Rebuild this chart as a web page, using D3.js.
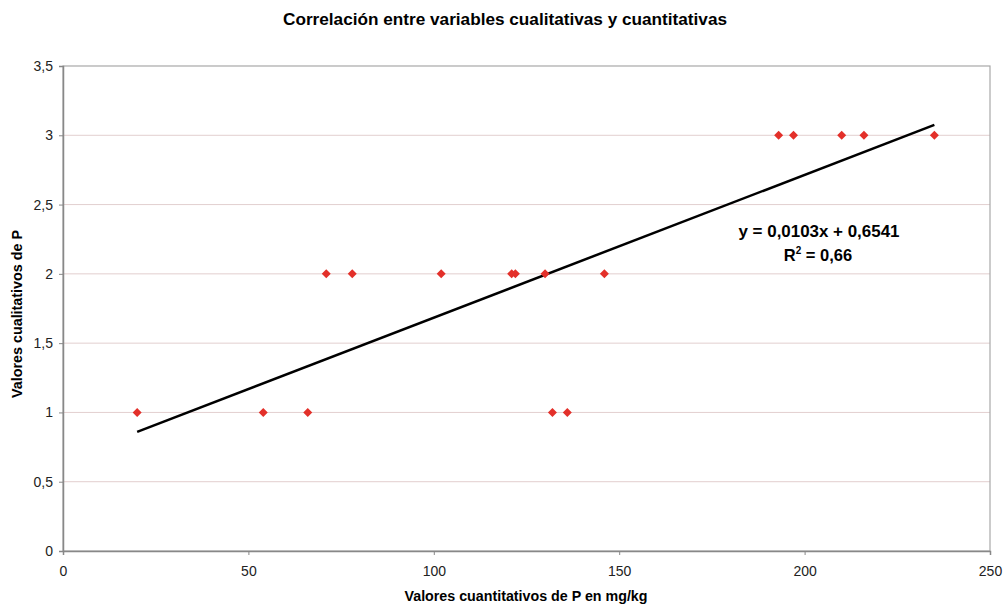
<!DOCTYPE html>
<html>
<head>
<meta charset="utf-8">
<script src="https://cdn.jsdelivr.net/npm/d3@7"></script>
<style>
  body { margin: 0; background: #fff; }
  svg text { font-family: "Liberation Sans", Arial, sans-serif; }
</style>
</head>
<body>
<svg id="render" width="1008" height="608"></svg>
<script>
// valores
let xVals = [20, 54, 66, 71, 78, 102, 121, 122, 130, 132, 136, 146, 193, 197, 210, 216, 235];
let yVals = [1, 1, 1, 2, 2, 2, 2, 2, 2, 1, 1, 2, 3, 3, 3, 3, 3];
let xTicks = [0, 50, 100, 150, 200, 250];
let yTicks = [0, 0.5, 1, 1.5, 2, 2.5, 3, 3.5];
let slope = 0.0103, intercept = 0.6541, r2 = '0,66';

let svg = d3.select('#render');
let plot = {'left': 63, 'right': 990, 'top': 66, 'bottom': 551};

let x = d3.scaleLinear().domain([0, 250]).range([plot.left, plot.right]);
let y = d3.scaleLinear().domain([0, 3.5]).range([plot.bottom, plot.top]);
let fmt = d => String(d).replace('.', ',');

// title
svg.append('text')
  .attr('x', 505).attr('y', 25)
  .attr('text-anchor', 'middle')
  .attr('textLength', 444).attr('lengthAdjust', 'spacingAndGlyphs')
  .style('font-size', '16px').style('font-weight', 'bold')
  .text('Correlación entre variables cualitativas y cuantitativas');

// gridlines
svg.append('g').selectAll('line')
  .data(yTicks.slice(1, -1))
  .join('line')
  .attr('x1', plot.left).attr('x2', plot.right)
  .attr('y1', d => y(d)).attr('y2', d => y(d))
  .style('stroke', '#e2cfcf').style('stroke-width', 1);

// frame
svg.append('rect')
  .attr('x', plot.left).attr('y', plot.top)
  .attr('width', plot.right - plot.left).attr('height', plot.bottom - plot.top)
  .style('fill', 'none').style('stroke', '#a8a8a8').style('stroke-width', 1.2);

// axes
let xAxis = svg.append('g')
  .attr('transform', `translate(0,${plot.bottom})`)
  .call(d3.axisBottom(x).tickValues(xTicks).tickSize(4).tickPadding(11).tickFormat(fmt));
let yAxis = svg.append('g')
  .attr('transform', `translate(${plot.left},0)`)
  .call(d3.axisLeft(y).tickValues(yTicks).tickSize(4).tickPadding(6).tickFormat(fmt));
[xAxis, yAxis].forEach(a => {
  a.select('.domain').style('stroke', '#888').style('stroke-width', 1.5);
  a.selectAll('.tick line').style('stroke', '#888');
  a.selectAll('text').style('font-size', '14px').style('fill', '#222');
});

// axis labels
svg.append('text')
  .attr('x', 526).attr('y', 601)
  .attr('text-anchor', 'middle')
  .attr('textLength', 243).attr('lengthAdjust', 'spacingAndGlyphs')
  .style('font-size', '14px').style('font-weight', 'bold')
  .text('Valores cuantitativos de P en mg/kg');
svg.append('text')
  .attr('transform', 'translate(22,314) rotate(-90)')
  .attr('text-anchor', 'middle')
  .attr('textLength', 168).attr('lengthAdjust', 'spacingAndGlyphs')
  .style('font-size', '14px').style('font-weight', 'bold')
  .text('Valores cualitativos de P');

// trend line
let xMin = d3.min(xVals), xMax = d3.max(xVals);
svg.append('line')
  .attr('x1', x(xMin)).attr('y1', y(slope * xMin + intercept))
  .attr('x2', x(xMax)).attr('y2', y(slope * xMax + intercept))
  .style('stroke', '#000').style('stroke-width', 2.5);

// points
let pts = xVals.map((v, i) => ({'x': v, 'y': yVals[i]}));
svg.append('g').selectAll('path')
  .data(pts)
  .join('path')
  .attr('transform', d => `translate(${x(d.x)},${y(d.y)})`)
  .attr('d', 'M0,-4.5L4.5,0L0,4.5L-4.5,0Z')
  .style('fill', '#e3302a');

// equation
svg.append('text')
  .attr('x', 819).attr('y', 237)
  .attr('text-anchor', 'middle')
  .attr('textLength', 161).attr('lengthAdjust', 'spacingAndGlyphs')
  .style('font-size', '16.5px').style('font-weight', 'bold')
  .text('y = ' + fmt(slope) + 'x + ' + fmt(intercept));
let rt = svg.append('text')
  .attr('x', 818).attr('y', 261)
  .attr('text-anchor', 'middle')
  .style('font-size', '16.5px').style('font-weight', 'bold');
rt.append('tspan').text('R');
rt.append('tspan').attr('dy', -7).style('font-size', '10px').text('2');
rt.append('tspan').attr('dy', 7).text(' = ' + r2);
</script>
</body>
</html>
